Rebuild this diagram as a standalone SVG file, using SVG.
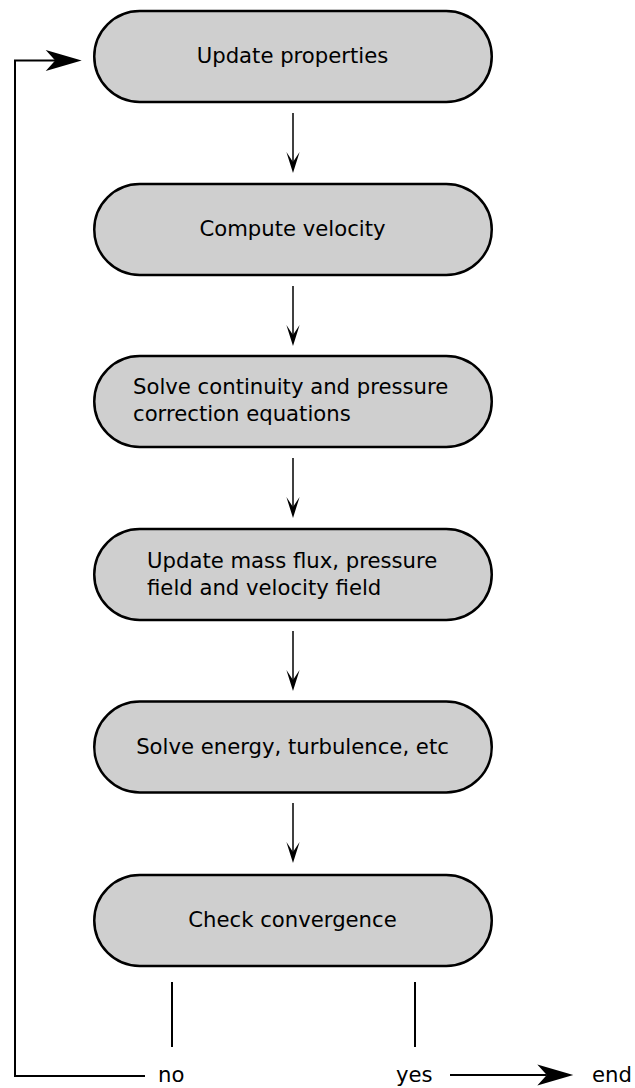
<svg xmlns="http://www.w3.org/2000/svg" width="635" height="1088" viewBox="0 0 635 1088">
<style>
.node rect{fill:#cfcfcf;stroke:#000;stroke-width:2.5}
text{font-family:"DejaVu Sans","Liberation Sans",sans-serif;font-size:21.2px;fill:#000}
.c{text-anchor:middle}
.thin{fill:none;stroke:#000;stroke-width:1.5}
.thick{fill:none;stroke:#000;stroke-width:2}
</style>
<defs>
<marker id="small" viewBox="-22 -8 23 16" markerWidth="23" markerHeight="16" refX="-11" refY="0" markerUnits="userSpaceOnUse" orient="auto">
<path d="M0,0 L-21,-6.6 L-11,0 L-21,6.6 Z" fill="#000"/>
</marker>
<marker id="big" viewBox="-37 -12 38 24" markerWidth="38" markerHeight="24" refX="-26.5" refY="0" markerUnits="userSpaceOnUse" orient="auto">
<path d="M0,0 L-36,-10.5 L-26.5,0 L-36,10.5 Z" fill="#000"/>
</marker>
</defs>
<g id="connectors">
<line class="thin" x1="293" y1="113" x2="293" y2="162" marker-end="url(#small)"/>
<line class="thin" x1="293" y1="286" x2="293" y2="335" marker-end="url(#small)"/>
<line class="thin" x1="293" y1="458" x2="293" y2="507" marker-end="url(#small)"/>
<line class="thin" x1="293" y1="631" x2="293" y2="680" marker-end="url(#small)"/>
<line class="thin" x1="293" y1="803" x2="293" y2="852" marker-end="url(#small)"/>
<line class="thick" x1="172" y1="982" x2="172" y2="1047"/>
<line class="thick" x1="415" y1="982" x2="415" y2="1047"/>
<path class="thick" d="M145,1076 H15 V60.5 H55.2" marker-end="url(#big)"/>
<line class="thick" x1="450" y1="1075" x2="546.8" y2="1075" marker-end="url(#big)"/>
</g>
<g id="n1" class="node"><rect x="94.25" y="11" width="397.5" height="91" rx="45.5"/><text class="c" x="292.5" y="63">Update properties</text></g>
<g id="n2" class="node"><rect x="94.25" y="184" width="397.5" height="91" rx="45.5"/><text class="c" x="292.5" y="235.5">Compute velocity</text></g>
<g id="n3" class="node"><rect x="94.25" y="356" width="397.5" height="91" rx="45.5"/><text x="133" y="394">Solve continuity and pressure</text><text x="133" y="421">correction equations</text></g>
<g id="n4" class="node"><rect x="94.25" y="529" width="397.5" height="91" rx="45.5"/><text x="147" y="568">Update mass flux, pressure</text><text x="147" y="594.5">field and velocity field</text></g>
<g id="n5" class="node"><rect x="94.25" y="701.5" width="397.5" height="91" rx="45.5"/><text class="c" x="292.5" y="754">Solve energy, turbulence, etc</text></g>
<g id="n6" class="node"><rect x="94.25" y="875" width="397.5" height="91" rx="45.5"/><text class="c" x="292.5" y="927">Check convergence</text></g>
<g id="labels">
<text x="158" y="1082">no</text>
<text x="396" y="1082">yes</text>
<text x="592" y="1082">end</text>
</g>
</svg>
